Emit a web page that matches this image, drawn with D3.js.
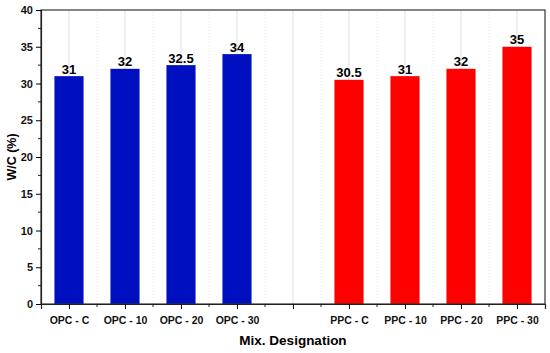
<!DOCTYPE html>
<html>
<head>
<meta charset="utf-8">
<script src="https://cdn.jsdelivr.net/npm/d3@7"></script>
<style>
  body { margin: 0; background: #fff; }
  text { font-family: "Liberation Sans", Arial, sans-serif; font-weight: bold; }
</style>
</head>
<body>
<svg width="550" height="353"></svg>
<script>
// categories in slot order; empty string = gap between groups
const categories = ["OPC - C", "OPC - 10", "OPC - 20", "OPC - 30", "", "PPC - C", "PPC - 10", "PPC - 20", "PPC - 30"]
const wcValues = [31, 32, 32.5, 34, null, 30.5, 31, 32, 35]
const valueLabels = ["31", "32", "32.5", "34", "", "30.5", "31", "32", "35"]
const yTicks = [0, 5, 10, 15, 20, 25, 30, 35, 40]

const svg = d3.select("svg")
const margin = {left: 41, right: 5, top: 10, bottom: 49}
const width = +svg.attr("width"), height = +svg.attr("height")
const x0 = margin.left, x1 = width - margin.right
const y0 = height - margin.bottom, y1 = margin.top

const x = d3.scaleLinear().domain([0.5, categories.length + 0.5]).range([x0, x1])
const y = d3.scaleLinear().domain([0, 40]).range([y0, y1])
const step = x(2) - x(1)

const color = i => i < 4 ? "#0010c0" : "#ff0000"

// vertical grid
const grid = svg.append("g")
grid.selectAll(".major")
    .data(d3.range(1, categories.length + 1))
    .enter().append("line")
    .attr("x1", d => x(d)).attr("x2", d => x(d))
    .attr("y1", y0).attr("y2", y1)
    .attr("stroke", "#e0e0e0").attr("stroke-width", 1)
grid.selectAll(".minor")
    .data(d3.range(1, categories.length).map(d => d + 0.5))
    .enter().append("line")
    .attr("x1", d => x(d)).attr("x2", d => x(d))
    .attr("y1", y0).attr("y2", y1)
    .attr("stroke", "#e6e6e6").attr("stroke-width", 1)
    .attr("stroke-dasharray", "1,2")

// bars
const barW = step * 0.52
svg.append("g").selectAll("rect")
    .data(wcValues.map((v, i) => ({v, i})).filter(d => d.v !== null))
    .enter().append("rect")
    .attr("x", d => x(d.i + 1) - barW / 2)
    .attr("width", barW)
    .attr("y", d => y(d.v))
    .attr("height", d => y(0) - y(d.v))
    .attr("fill", d => color(d.i))

svg.append("g").selectAll("text")
    .data(wcValues.map((v, i) => ({v, i})).filter(d => d.v !== null))
    .enter().append("text")
    .attr("x", d => x(d.i + 1))
    .attr("y", d => y(d.v) - 2.5)
    .attr("text-anchor", "middle")
    .attr("font-size", 13)
    .text(d => valueLabels[d.i])

// frame
svg.append("rect")
    .attr("x", x0).attr("y", y1)
    .attr("width", x1 - x0).attr("height", y0 - y1)
    .attr("fill", "none").attr("stroke", "#333").attr("stroke-width", 1.2)

// y axis
const yAxis = svg.append("g").attr("transform", `translate(${x0},0)`)
    .call(d3.axisLeft(y).tickValues(yTicks).tickSize(5).tickPadding(3).tickFormat(d3.format("d")))
yAxis.select(".domain").attr("stroke", "#222").attr("stroke-width", 1.2)
yAxis.selectAll("text").attr("font-size", 11).attr("font-family", null).attr("fill", "#111")
yAxis.selectAll(".minor")
    .data(d3.range(2.5, 40, 5))
    .enter().append("line").attr("class", "minor")
    .attr("x1", 0).attr("x2", -3)
    .attr("y1", d => y(d)).attr("y2", d => y(d))
    .attr("stroke", "#222")

// x axis
const xAxis = svg.append("g").attr("transform", `translate(0,${y0})`)
    .call(d3.axisBottom(x).tickValues(d3.range(1, categories.length + 1))
        .tickSize(5).tickPadding(8).tickFormat(d => categories[d - 1]))
xAxis.select(".domain").attr("stroke", "#222").attr("stroke-width", 1.2)
xAxis.selectAll("text").attr("font-size", 10.5).attr("font-family", null).attr("fill", "#111")
xAxis.selectAll(".minor")
    .data(d3.range(1, categories.length).map(d => d + 0.5))
    .enter().append("line").attr("class", "minor")
    .attr("x1", d => x(d)).attr("x2", d => x(d))
    .attr("y1", 0).attr("y2", 3)
    .attr("stroke", "#222")

// axis titles
svg.append("text")
    .attr("x", (x0 + x1) / 2).attr("y", 345)
    .attr("text-anchor", "middle").attr("font-size", 13.5)
    .text("Mix. Designation")
svg.append("text")
    .attr("transform", `translate(16,${(y0 + y1) / 2}) rotate(-90)`)
    .attr("text-anchor", "middle").attr("font-size", 12.5)
    .text("W/C (%)")
</script>
</body>
</html>
